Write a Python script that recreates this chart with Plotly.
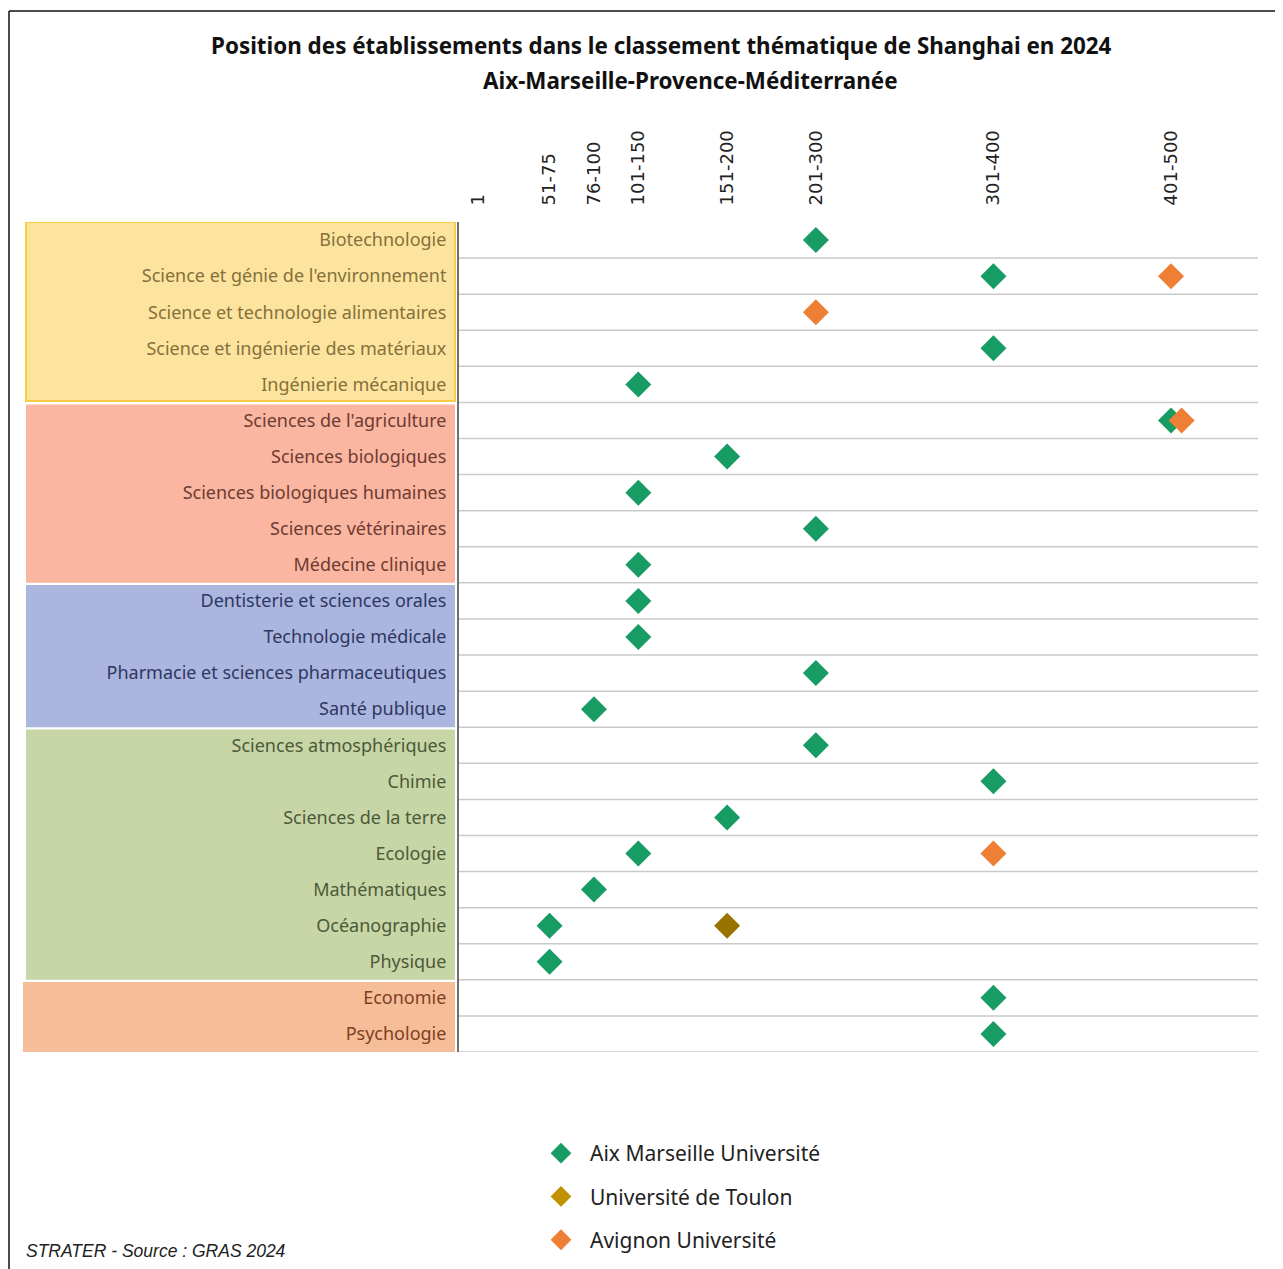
import plotly.graph_objects as go

# ---------------- data ----------------
subjects = [
    "Biotechnologie", "Science et génie de l'environnement", "Science et technologie alimentaires",
    "Science et ingénierie des matériaux", "Ingénierie mécanique",
    "Sciences de l'agriculture", "Sciences biologiques", "Sciences biologiques humaines",
    "Sciences vétérinaires", "Médecine clinique",
    "Dentisterie et sciences orales", "Technologie médicale",
    "Pharmacie et sciences pharmaceutiques", "Santé publique",
    "Sciences atmosphériques", "Chimie", "Sciences de la terre", "Ecologie",
    "Mathématiques", "Océanographie", "Physique",
    "Economie", "Psychologie",
]

rank_labels = ["1", "51-75", "76-100", "101-150", "151-200", "201-300", "301-400", "401-500"]
rank_values = [11, 51, 76, 101, 151, 201, 301, 401]

amu_subjects = [
    "Biotechnologie", "Science et génie de l'environnement", "Science et ingénierie des matériaux",
    "Ingénierie mécanique", "Sciences de l'agriculture", "Sciences biologiques",
    "Sciences biologiques humaines", "Sciences vétérinaires", "Médecine clinique",
    "Dentisterie et sciences orales", "Technologie médicale", "Pharmacie et sciences pharmaceutiques",
    "Santé publique", "Sciences atmosphériques", "Chimie", "Sciences de la terre", "Ecologie",
    "Mathématiques", "Océanographie", "Physique", "Economie", "Psychologie",
]
amu_ranks = [
    "201-300", "301-400", "301-400", "101-150", "401-500", "151-200", "101-150", "201-300",
    "101-150", "101-150", "101-150", "201-300", "76-100", "201-300", "301-400", "151-200",
    "101-150", "76-100", "51-75", "51-75", "301-400", "301-400",
]

toulon_subjects = ["Océanographie"]
toulon_ranks = ["151-200"]

avignon_subjects = [
    "Science et génie de l'environnement", "Science et technologie alimentaires",
    "Sciences de l'agriculture", "Ecologie",
]
avignon_ranks = ["401-500", "201-300", "401-500", "301-400"]

group_sizes = [5, 5, 4, 7, 2]
group_fill = ["#fce49e", "#fab6a1", "#abb6de", "#c8d5a7", "#f6bd99"]
group_text = ["#85703a", "#6e3b30", "#2f3662", "#4b5a37", "#7d3f1f"]

# ---------------- helpers ----------------
rank_pos = dict(zip(rank_labels, rank_values))
row_of = {s: i for i, s in enumerate(subjects)}
W, H = 1283, 1269
OFF = 8  # page body margin
L, T = 459 - OFF, 222 - OFF
R, B = W - (1258 - OFF), H - (1052 - OFF)
pw, ph = W - L - R, H - T - B


def px_x(p):  # screenshot pixel -> paper x
    return (p - OFF - L) / pw


def px_y(p):  # screenshot pixel -> paper y
    return (H - B - (p - OFF)) / ph


occupied = set()


def positions(subs, ranks, dodge):
    xs, ys = [], []
    for s, r in zip(subs, ranks):
        key = (row_of[s], r)
        x = rank_pos[r] + (dodge if key in occupied else 0)
        occupied.add(key)
        xs.append(x)
        ys.append(row_of[s])
    return xs, ys


fig = go.Figure()
font_lab = "'Noto Sans', Lato, sans-serif"

series = [
    ("Aix Marseille Université", amu_subjects, amu_ranks, "#179c64", "#179c64"),
    ("Université de Toulon", toulon_subjects, toulon_ranks, "#9a7200", "#c19200"),
    ("Avignon Université", avignon_subjects, avignon_ranks, "#ef7f35", "#ef7f35"),
]
for i, (name, subs, ranks, col, legcol) in enumerate(series):
    xs, ys = positions(subs, ranks, 6)
    fig.add_trace(go.Scatter(
        x=xs, y=ys, mode="markers", name=name, showlegend=False,
        marker=dict(symbol="diamond", size=20, color=col, line=dict(width=0)),
        hovertext=[f"{s}: {r}" for s, r in zip(subs, ranks)], hoverinfo="text",
    ))
    fig.add_trace(go.Scatter(
        x=[None], y=[None], mode="markers", name=name, legendgroup=name,
        marker=dict(symbol="diamond", size=20, color=legcol),
    ))

shapes = []
# coloured bands behind labels
start = 0
for k, (n, fc) in enumerate(zip(group_sizes, group_fill)):
    x0 = px_x(23) if k == len(group_sizes) - 1 else px_x(26)
    y0 = start - 0.5 + (0.06 if k > 0 else 0)
    y1 = start + n - 0.5
    line = dict(width=2, color="#fbcd45") if k == 0 else dict(width=0)
    shapes.append(dict(type="rect", xref="paper", yref="y", x0=x0, x1=px_x(455),
                       y0=y0 if k != 0 else -0.5, y1=y1 - (0.04 if k == 0 else 0),
                       fillcolor=fc, line=line, layer="below"))
    start += n

# horizontal row separators
for i in range(len(subjects)):
    shapes.append(dict(type="line", xref="paper", yref="y", x0=0, x1=1,
                       y0=i + 0.5, y1=i + 0.5, line=dict(color="#c9c9c9", width=1.5), layer="below"))
# left axis line
shapes.append(dict(type="line", xref="paper", yref="y", x0=px_x(458), x1=px_x(458),
                   y0=-0.5, y1=len(subjects) - 0.5, line=dict(color="#6f6f6f", width=2)))
# outer frame (top and left)
shapes.append(dict(type="line", xref="paper", yref="paper", x0=px_x(9), x1=px_x(1300),
                   y0=px_y(11), y1=px_y(11), line=dict(color="#111", width=1.5)))
shapes.append(dict(type="line", xref="paper", yref="paper", x0=px_x(9), x1=px_x(9),
                   y0=px_y(11), y1=px_y(1290), line=dict(color="#111", width=1.5)))

# y tick labels coloured per band
ticktext = []
start = 0
for n, tc in zip(group_sizes, group_text):
    for s in subjects[start:start + n]:
        ticktext.append(f'<span style="color:{tc}">{s}</span>')
    start += n

fig.update_layout(
    width=W, height=H,
    margin=dict(l=L, r=R, t=T, b=B, pad=0),
    paper_bgcolor="white", plot_bgcolor="white",
    showlegend=True,
    shapes=shapes,
    xaxis=dict(range=[0, 450], side="top", tickmode="array", tickvals=rank_values,
               ticktext=rank_labels, tickangle=-90, showgrid=False, zeroline=False,
               showline=False, ticks="outside", ticklen=12, tickcolor="rgba(0,0,0,0)",
               tickfont=dict(family="'DejaVu Sans', sans-serif", size=18, color="#222")),
    yaxis=dict(range=[len(subjects) - 0.5, -0.5], tickmode="array",
               tickvals=list(range(len(subjects))), ticktext=ticktext,
               showgrid=False, zeroline=False, showline=False,
               ticks="outside", ticklen=8, tickcolor="rgba(0,0,0,0)",
               tickfont=dict(family=font_lab, size=18)),
    legend=dict(x=px_x(532), y=px_y(1133), xanchor="left", yanchor="top",
                traceorder="grouped", tracegroupgap=13, itemwidth=48,
                font=dict(family=font_lab, size=21, color="#222"),
                bgcolor="rgba(0,0,0,0)"),
    annotations=[
        dict(text="<b>Position des établissements dans le classement thématique de Shanghai en 2024</b>",
             xref="paper", yref="paper", x=px_x(661), y=px_y(46), xanchor="center", yanchor="middle",
             showarrow=False, font=dict(family=font_lab, size=22.4, color="#111")),
        dict(text="<b>Aix-Marseille-Provence-Méditerranée</b>",
             xref="paper", yref="paper", x=px_x(690), y=px_y(81), xanchor="center", yanchor="middle",
             showarrow=False, font=dict(family=font_lab, size=22.4, color="#111")),
        dict(text="<i>STRATER - Source : GRAS 2024</i>",
             xref="paper", yref="paper", x=px_x(24), y=px_y(1251), xanchor="left", yanchor="middle",
             showarrow=False, font=dict(family="'Liberation Sans', Arial, sans-serif", size=17.5, color="#222")),
    ],
)

fig.write_html("out.html")
